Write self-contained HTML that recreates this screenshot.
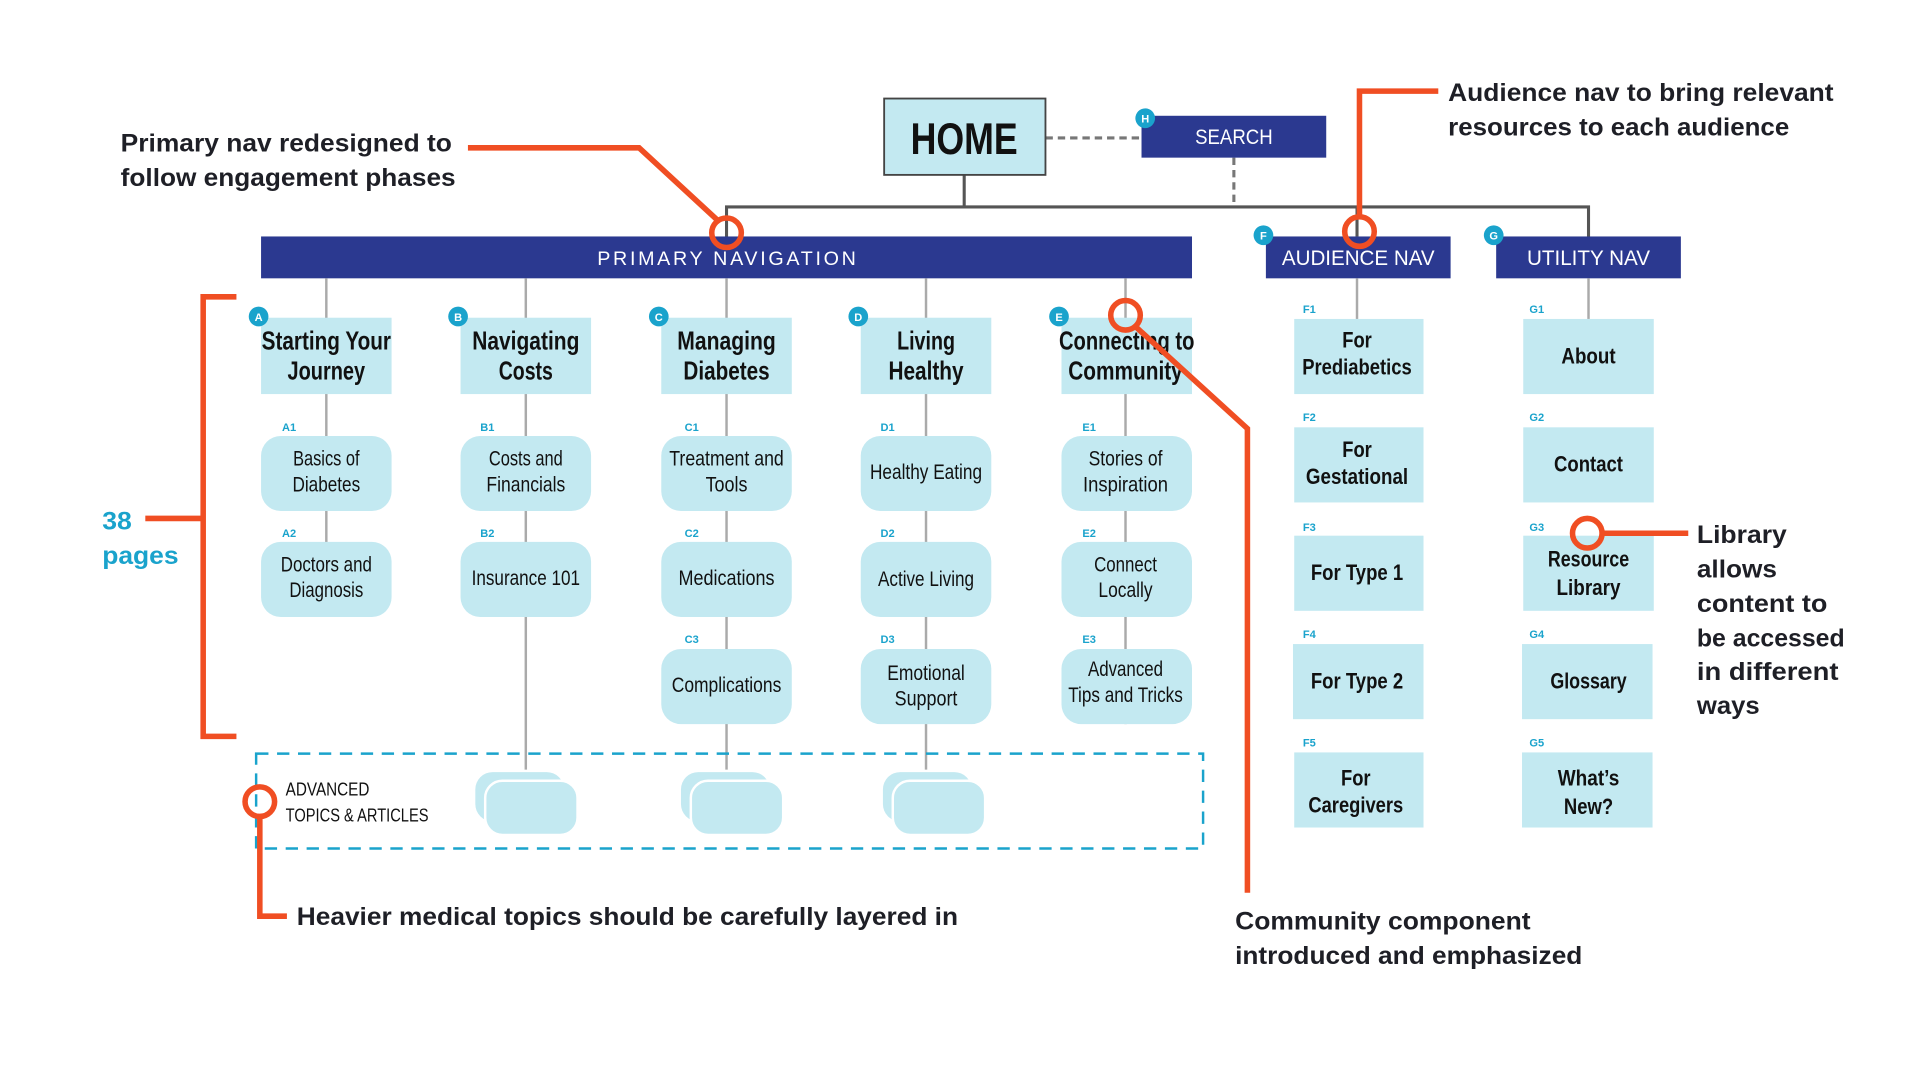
<!DOCTYPE html>
<html><head><meta charset="utf-8"><style>
html,body{margin:0;padding:0;background:#fff;}
svg{display:block;}
.n{font-family:"Liberation Sans Narrow","Liberation Sans",sans-serif;fill:#111;}
.a{font-family:"Liberation Sans",sans-serif;font-weight:bold;fill:#1e1f26;font-size:20px;}
.b{font-family:"Liberation Sans",sans-serif;font-weight:bold;fill:#fff;font-size:9px;}
.l{font-family:"Liberation Sans",sans-serif;font-weight:bold;fill:#1aa3cc;font-size:9px;}
</style></head><body>
<svg width="1921" height="1080" viewBox="0 0 1560 877" xmlns="http://www.w3.org/2000/svg">
<rect width="1560" height="877" fill="#fff"/>
<!-- top connectors -->
<line x1="849" y1="112" x2="927" y2="112" stroke="#777" stroke-width="2.5" stroke-dasharray="6,4"/>
<line x1="1002" y1="128" x2="1002" y2="166" stroke="#777" stroke-width="2.5" stroke-dasharray="6,4"/>
<line x1="783" y1="142" x2="783" y2="168" stroke="#555" stroke-width="2.5"/>
<polyline points="590,192 590,168 1290,168 1290,192" fill="none" stroke="#555" stroke-width="2.5"/>
<line x1="1102" y1="168" x2="1102" y2="192" stroke="#555" stroke-width="2.5"/>
<!-- HOME -->
<rect x="718" y="80" width="131" height="62" fill="#c3e9f1" stroke="#444" stroke-width="1.5"/>
<text class="n" x="783" y="125" text-anchor="middle" font-size="36" font-weight="bold" textLength="87" lengthAdjust="spacingAndGlyphs">HOME</text>
<!-- SEARCH -->
<rect x="927" y="94" width="150" height="34" fill="#2b3990"/>
<text class="n" x="1002" y="117" text-anchor="middle" font-size="17" fill="#fff" style="fill:#fff" textLength="63" lengthAdjust="spacingAndGlyphs">SEARCH</text>
<circle cx="930" cy="96" r="8" fill="#1aa3cc"/><text class="b" x="930" y="99.5" text-anchor="middle">H</text>
<!-- nav bars -->
<rect x="212" y="192" width="756" height="34" fill="#2b3990"/>
<text class="n" x="590" y="215" text-anchor="middle" font-size="16" style="fill:#fff" textLength="210" lengthAdjust="spacing">PRIMARY NAVIGATION</text>
<rect x="1028" y="192" width="150" height="34" fill="#2b3990"/>
<text class="n" x="1103" y="215" text-anchor="middle" font-size="17" style="fill:#fff" textLength="124" lengthAdjust="spacingAndGlyphs">AUDIENCE NAV</text>
<rect x="1215" y="192" width="150" height="34" fill="#2b3990"/>
<text class="n" x="1290" y="215" text-anchor="middle" font-size="17" style="fill:#fff" textLength="100" lengthAdjust="spacingAndGlyphs">UTILITY NAV</text>
<circle cx="1026" cy="191" r="8" fill="#1aa3cc"/><text class="b" x="1026" y="194.5" text-anchor="middle">F</text>
<circle cx="1213" cy="191" r="8" fill="#1aa3cc"/><text class="b" x="1213" y="194.5" text-anchor="middle">G</text>
<!-- vertical column lines -->
<g stroke="#aaa" stroke-width="2">
<line x1="265" y1="226" x2="265" y2="501"/>
<line x1="427" y1="226" x2="427" y2="625"/>
<line x1="590" y1="226" x2="590" y2="625"/>
<line x1="752" y1="226" x2="752" y2="625"/>
<line x1="914" y1="226" x2="914" y2="588"/>
<line x1="1102" y1="226" x2="1102" y2="259"/>
<line x1="1290" y1="226" x2="1290" y2="259"/>
</g>
<!-- header boxes -->
<g fill="#c3e9f1">
<rect x="212" y="258" width="106" height="62"/>
<rect x="374" y="258" width="106" height="62"/>
<rect x="537" y="258" width="106" height="62"/>
<rect x="699" y="258" width="106" height="62"/>
<rect x="862" y="258" width="106" height="62"/>
</g>
<g font-size="21" font-weight="bold">
<text class="n" x="265" y="284" text-anchor="middle" textLength="105" lengthAdjust="spacingAndGlyphs">Starting Your</text>
<text class="n" x="265" y="308" text-anchor="middle" textLength="63" lengthAdjust="spacingAndGlyphs">Journey</text>
<text class="n" x="427" y="284" text-anchor="middle" textLength="87" lengthAdjust="spacingAndGlyphs">Navigating</text>
<text class="n" x="427" y="308" text-anchor="middle" textLength="44" lengthAdjust="spacingAndGlyphs">Costs</text>
<text class="n" x="590" y="284" text-anchor="middle" textLength="80" lengthAdjust="spacingAndGlyphs">Managing</text>
<text class="n" x="590" y="308" text-anchor="middle" textLength="70" lengthAdjust="spacingAndGlyphs">Diabetes</text>
<text class="n" x="752" y="284" text-anchor="middle" textLength="47" lengthAdjust="spacingAndGlyphs">Living</text>
<text class="n" x="752" y="308" text-anchor="middle" textLength="61" lengthAdjust="spacingAndGlyphs">Healthy</text>
<text class="n" x="915" y="284" text-anchor="middle" textLength="110" lengthAdjust="spacingAndGlyphs">Connecting to</text>
<text class="n" x="914" y="308" text-anchor="middle" textLength="93" lengthAdjust="spacingAndGlyphs">Community</text>
</g>
<g>
<circle cx="210" cy="257" r="8" fill="#1aa3cc"/><text class="b" x="210" y="260.5" text-anchor="middle">A</text>
<circle cx="372" cy="257" r="8" fill="#1aa3cc"/><text class="b" x="372" y="260.5" text-anchor="middle">B</text>
<circle cx="535" cy="257" r="8" fill="#1aa3cc"/><text class="b" x="535" y="260.5" text-anchor="middle">C</text>
<circle cx="697" cy="257" r="8" fill="#1aa3cc"/><text class="b" x="697" y="260.5" text-anchor="middle">D</text>
<circle cx="860" cy="257" r="8" fill="#1aa3cc"/><text class="b" x="860" y="260.5" text-anchor="middle">E</text>
</g>
<!-- sub boxes -->
<g fill="#c3e9f1">
<rect x="212" y="354" width="106" height="61" rx="16"/>
<rect x="212" y="440" width="106" height="61" rx="16"/>
<rect x="374" y="354" width="106" height="61" rx="16"/>
<rect x="374" y="440" width="106" height="61" rx="16"/>
<rect x="537" y="354" width="106" height="61" rx="16"/>
<rect x="537" y="440" width="106" height="61" rx="16"/>
<rect x="537" y="527" width="106" height="61" rx="16"/>
<rect x="699" y="354" width="106" height="61" rx="16"/>
<rect x="699" y="440" width="106" height="61" rx="16"/>
<rect x="699" y="527" width="106" height="61" rx="16"/>
<rect x="862" y="354" width="106" height="61" rx="16"/>
<rect x="862" y="440" width="106" height="61" rx="16"/>
<rect x="862" y="527" width="106" height="61" rx="16"/>
</g>
<g class="l">
<text class="l" x="229" y="350">A1</text><text class="l" x="229" y="436">A2</text>
<text class="l" x="390" y="350">B1</text><text class="l" x="390" y="436">B2</text>
<text class="l" x="556" y="350">C1</text><text class="l" x="556" y="436">C2</text><text class="l" x="556" y="522">C3</text>
<text class="l" x="715" y="350">D1</text><text class="l" x="715" y="436">D2</text><text class="l" x="715" y="522">D3</text>
<text class="l" x="879" y="350">E1</text><text class="l" x="879" y="436">E2</text><text class="l" x="879" y="522">E3</text>
</g>
<g font-size="17">
<text class="n" x="265" y="378" text-anchor="middle" textLength="54" lengthAdjust="spacingAndGlyphs">Basics of</text>
<text class="n" x="265" y="399" text-anchor="middle" textLength="55" lengthAdjust="spacingAndGlyphs">Diabetes</text>
<text class="n" x="265" y="464" text-anchor="middle" textLength="74" lengthAdjust="spacingAndGlyphs">Doctors and</text>
<text class="n" x="265" y="485" text-anchor="middle" textLength="60" lengthAdjust="spacingAndGlyphs">Diagnosis</text>
<text class="n" x="427" y="378" text-anchor="middle" textLength="60" lengthAdjust="spacingAndGlyphs">Costs and</text>
<text class="n" x="427" y="399" text-anchor="middle" textLength="64" lengthAdjust="spacingAndGlyphs">Financials</text>
<text class="n" x="427" y="475" text-anchor="middle" textLength="88" lengthAdjust="spacingAndGlyphs">Insurance 101</text>
<text class="n" x="590" y="378" text-anchor="middle" textLength="93" lengthAdjust="spacingAndGlyphs">Treatment and</text>
<text class="n" x="590" y="399" text-anchor="middle" textLength="34" lengthAdjust="spacingAndGlyphs">Tools</text>
<text class="n" x="590" y="475" text-anchor="middle" textLength="78" lengthAdjust="spacingAndGlyphs">Medications</text>
<text class="n" x="590" y="562" text-anchor="middle" textLength="89" lengthAdjust="spacingAndGlyphs">Complications</text>
<text class="n" x="752" y="389" text-anchor="middle" textLength="91" lengthAdjust="spacingAndGlyphs">Healthy Eating</text>
<text class="n" x="752" y="476" text-anchor="middle" textLength="78" lengthAdjust="spacingAndGlyphs">Active Living</text>
<text class="n" x="752" y="552" text-anchor="middle" textLength="63" lengthAdjust="spacingAndGlyphs">Emotional</text>
<text class="n" x="752" y="573" text-anchor="middle" textLength="51" lengthAdjust="spacingAndGlyphs">Support</text>
<text class="n" x="914" y="378" text-anchor="middle" textLength="60" lengthAdjust="spacingAndGlyphs">Stories of</text>
<text class="n" x="914" y="399" text-anchor="middle" textLength="69" lengthAdjust="spacingAndGlyphs">Inspiration</text>
<text class="n" x="914" y="464" text-anchor="middle" textLength="51" lengthAdjust="spacingAndGlyphs">Connect</text>
<text class="n" x="914" y="485" text-anchor="middle" textLength="44" lengthAdjust="spacingAndGlyphs">Locally</text>
<text class="n" x="914" y="549" text-anchor="middle" textLength="61" lengthAdjust="spacingAndGlyphs">Advanced</text>
<text class="n" x="914" y="570" text-anchor="middle" textLength="93" lengthAdjust="spacingAndGlyphs">Tips and Tricks</text>
</g>
<!-- advanced topics dashed region -->
<rect x="208" y="612" width="769" height="77" fill="none" stroke="#1aa3cc" stroke-width="2" stroke-dasharray="10,7"/>
<g>
<rect x="386" y="627" width="72" height="40" rx="14" fill="#c3e9f1"/>
<rect x="394" y="634" width="75" height="44" rx="14" fill="#c3e9f1" stroke="#fff" stroke-width="2"/>
<rect x="553" y="627" width="72" height="40" rx="14" fill="#c3e9f1"/>
<rect x="561" y="634" width="75" height="44" rx="14" fill="#c3e9f1" stroke="#fff" stroke-width="2"/>
<rect x="717" y="627" width="72" height="40" rx="14" fill="#c3e9f1"/>
<rect x="725" y="634" width="75" height="44" rx="14" fill="#c3e9f1" stroke="#fff" stroke-width="2"/>
</g>
<text class="n" x="232" y="646" font-size="15" textLength="68" lengthAdjust="spacingAndGlyphs">ADVANCED</text>
<text class="n" x="232" y="667" font-size="15" textLength="116" lengthAdjust="spacingAndGlyphs">TOPICS &amp; ARTICLES</text>
<!-- F column -->
<g fill="#c3e9f1">
<rect x="1051" y="259" width="105" height="61"/>
<rect x="1051" y="347" width="105" height="61"/>
<rect x="1051" y="435" width="105" height="61"/>
<rect x="1050" y="523" width="106" height="61"/>
<rect x="1051" y="611" width="105" height="61"/>
<rect x="1237" y="259" width="106" height="61"/>
<rect x="1237" y="347" width="106" height="61"/>
<rect x="1237" y="435" width="106" height="61"/>
<rect x="1236" y="523" width="106" height="61"/>
<rect x="1236" y="611" width="106" height="61"/>
</g>
<text class="l" x="1058" y="254">F1</text><text class="l" x="1058" y="342">F2</text><text class="l" x="1058" y="431">F3</text><text class="l" x="1058" y="518">F4</text><text class="l" x="1058" y="606">F5</text>
<text class="l" x="1242" y="254">G1</text><text class="l" x="1242" y="342">G2</text><text class="l" x="1242" y="431">G3</text><text class="l" x="1242" y="518">G4</text><text class="l" x="1242" y="606">G5</text>
<g font-size="18" font-weight="bold">
<text class="n" x="1102" y="282" text-anchor="middle" textLength="24" lengthAdjust="spacingAndGlyphs">For</text>
<text class="n" x="1102" y="304" text-anchor="middle" textLength="89" lengthAdjust="spacingAndGlyphs">Prediabetics</text>
<text class="n" x="1102" y="371" text-anchor="middle" textLength="24" lengthAdjust="spacingAndGlyphs">For</text>
<text class="n" x="1102" y="393" text-anchor="middle" textLength="83" lengthAdjust="spacingAndGlyphs">Gestational</text>
<text class="n" x="1102" y="471" text-anchor="middle" textLength="75" lengthAdjust="spacingAndGlyphs">For Type 1</text>
<text class="n" x="1102" y="559" text-anchor="middle" textLength="75" lengthAdjust="spacingAndGlyphs">For Type 2</text>
<text class="n" x="1101" y="638" text-anchor="middle" textLength="24" lengthAdjust="spacingAndGlyphs">For</text>
<text class="n" x="1101" y="660" text-anchor="middle" textLength="77" lengthAdjust="spacingAndGlyphs">Caregivers</text>
<text class="n" x="1290" y="295" text-anchor="middle" textLength="44" lengthAdjust="spacingAndGlyphs">About</text>
<text class="n" x="1290" y="383" text-anchor="middle" textLength="56" lengthAdjust="spacingAndGlyphs">Contact</text>
<text class="n" x="1290" y="460" text-anchor="middle" textLength="66" lengthAdjust="spacingAndGlyphs">Resource</text>
<text class="n" x="1290" y="483" text-anchor="middle" textLength="52" lengthAdjust="spacingAndGlyphs">Library</text>
<text class="n" x="1290" y="559" text-anchor="middle" textLength="62" lengthAdjust="spacingAndGlyphs">Glossary</text>
<text class="n" x="1290" y="638" text-anchor="middle" textLength="50" lengthAdjust="spacingAndGlyphs">What’s</text>
<text class="n" x="1290" y="661" text-anchor="middle" textLength="40" lengthAdjust="spacingAndGlyphs">New?</text>
</g>
<!-- red annotations -->
<g stroke="#f04e23" stroke-width="4.5" fill="none">
<polyline points="380,120 519,120 584,180"/>
<circle cx="590" cy="189" r="12"/>
<polyline points="1168,74 1104,74 1104,176"/>
<circle cx="1104" cy="188" r="12"/>
<polyline points="923,266 1013,348 1013,725"/>
<circle cx="914" cy="256" r="12"/>
<line x1="1302" y1="433" x2="1371" y2="433"/>
<circle cx="1289" cy="433" r="12"/>
<polyline points="211,664 211,744 233,744"/>
<circle cx="211" cy="651" r="12"/>
<polyline points="192,241 165,241 165,598 192,598"/>
<line x1="118" y1="421" x2="165" y2="421"/>
</g>
<text class="a" x="98" y="123" textLength="269" lengthAdjust="spacingAndGlyphs">Primary nav redesigned to</text>
<text class="a" x="98" y="151" textLength="272" lengthAdjust="spacingAndGlyphs">follow engagement phases</text>
<text class="a" x="1176" y="82" textLength="313" lengthAdjust="spacingAndGlyphs">Audience nav to bring relevant</text>
<text class="a" x="1176" y="110" textLength="277" lengthAdjust="spacingAndGlyphs">resources to each audience</text>
<text class="a" x="241" y="751" textLength="537" lengthAdjust="spacingAndGlyphs">Heavier medical topics should be carefully layered in</text>
<text class="a" x="1003" y="755" textLength="240" lengthAdjust="spacingAndGlyphs">Community component</text>
<text class="a" x="1003" y="783" textLength="282" lengthAdjust="spacingAndGlyphs">introduced and emphasized</text>
<text class="a" x="1378" y="441" textLength="73" lengthAdjust="spacingAndGlyphs">Library</text>
<text class="a" x="1378" y="469" textLength="65" lengthAdjust="spacingAndGlyphs">allows</text>
<text class="a" x="1378" y="497" textLength="106" lengthAdjust="spacingAndGlyphs">content to</text>
<text class="a" x="1378" y="525" textLength="120" lengthAdjust="spacingAndGlyphs">be accessed</text>
<text class="a" x="1378" y="552" textLength="115" lengthAdjust="spacingAndGlyphs">in different</text>
<text class="a" x="1378" y="580" textLength="51" lengthAdjust="spacingAndGlyphs">ways</text>
<text class="a" x="83" y="430" style="fill:#1aa3cc" textLength="24" lengthAdjust="spacingAndGlyphs">38</text>
<text class="a" x="83" y="458" style="fill:#1aa3cc" textLength="62" lengthAdjust="spacingAndGlyphs">pages</text>
</svg>
</body></html>
